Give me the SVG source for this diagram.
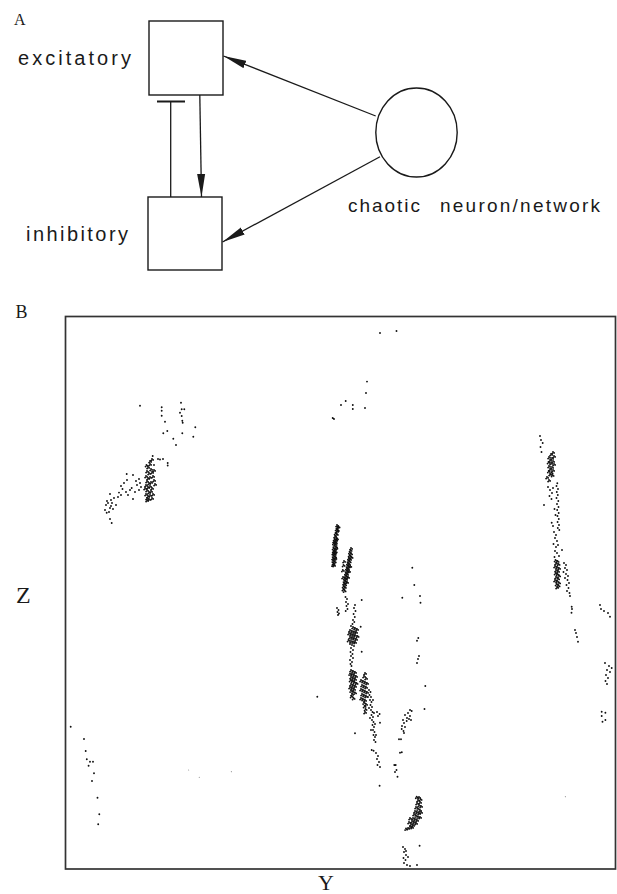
<svg xmlns="http://www.w3.org/2000/svg" width="617" height="894" viewBox="0 0 617 894">
<style>
.sans{font-family:"Liberation Sans",Arial,sans-serif;fill:#1a1a1a}
.serif{font-family:"Liberation Serif","Times New Roman",serif;fill:#1a1a1a}
.box{fill:none;stroke:#1a1a1a;stroke-width:1.4}
.ln{fill:none;stroke:#1a1a1a;stroke-width:1.3}
.dots{fill:none;stroke:#111;stroke-width:1.9;stroke-linecap:round}
</style>
<defs>
<marker id="arr" viewBox="0 0 24 9" refX="23" refY="4.5" markerWidth="24" markerHeight="9" markerUnits="userSpaceOnUse" orient="auto">
<path d="M0,0.5 L23,4.5 L0,8.5 Z" fill="#1a1a1a"/>
</marker>
</defs>
<rect width="617" height="894" fill="#fff"/>

<text class="serif" x="14" y="25" font-size="16">A</text>

<g id="excitatory">
<rect class="box" x="149" y="21" width="74" height="74"/>
<text class="sans" x="18" y="64.5" font-size="20" textLength="113" lengthAdjust="spacing">excitatory</text>
</g>
<g id="inhibitory">
<rect class="box" x="148" y="197" width="74" height="73"/>
<text class="sans" x="26" y="241" font-size="20" textLength="102" lengthAdjust="spacing">inhibitory</text>
</g>
<g id="chaotic">
<ellipse class="box" cx="416.5" cy="132.5" rx="40.7" ry="44.5"/>
<text class="sans" x="348" y="212" font-size="19"><tspan textLength="72" lengthAdjust="spacing">chaotic</tspan> <tspan x="440" textLength="160" lengthAdjust="spacing">neuron/network</tspan></text>
</g>

<g id="connectors">
<line class="ln" x1="375.7" y1="116" x2="223.5" y2="56" marker-end="url(#arr)"/>
<line class="ln" x1="380" y1="156.7" x2="222.5" y2="242" marker-end="url(#arr)"/>
<line class="ln" x1="199.8" y1="95" x2="201.5" y2="197" marker-end="url(#arr)"/>
<line class="ln" x1="170.7" y1="197" x2="170.7" y2="101.5"/>
<line x1="157" y1="101.5" x2="185" y2="101.5" stroke="#1a1a1a" stroke-width="2"/>
</g>

<text class="serif" x="15.5" y="318" font-size="18">B</text>
<g id="plot">
<rect x="65.5" y="316.5" width="550" height="552.5" fill="none" stroke="#333" stroke-width="1.7"/>
<path class="dots" d="M140 405.7h0M161.7 407.3h0M161.7 410.7h0M161.7 415.7h0M165 421.7h0M163.3 433.3h0M167.3 431h0M173.3 438.7h0M176 445h0M181 402.7h0M181.7 409.3h0M180 412.7h0M184.3 409.3h0M181.7 416h0M182.3 420.7h0M182.7 422.7h0M182.3 433.3h0M195.3 427.3h0M193.3 436.7h0
M152.7 456h0M158 459h0M160 459.5h0M163 459h0M167.7 463h0M167.7 465.5h0M154 465h0
M126.7 474h0M133 475h0M139 479h0M140 483h0M141 487h0M139 490h0M121 486h0M122.5 489h0M126 492h0M130 490h0M128 495h0M121 495h0M119 492.6h0M131.7 488h0M133 499h0M124 483h0M127 480h0M135 492h0M137 485h0M118 497h0M136 481h0
M110 494h0M111 500h0M108 503h0M111 506h0M106 505h0M110 508h0M112 503h0M114 498h0M105 510h0M106.7 512.7h0M109 512h0M110 519h0M111.7 523h0M107 501h0M113 509h0M116 505h0
M380 333h0M396.5 331h0M367 381.6h0M366 393h0M345.7 401h0M352.8 405h0M352.8 409h0M365 408h0M341 405h0M332.7 418h0M334 419h0
M345.5 597h0M347 599h0M346 602h0M348 604h0M346.5 606h0M347.5 609h0M345.7 611h0M337 608h0M338.5 610h0M337.5 612h0M339 613.5h0M338 615h0
M355 605h0M354 608h0M355.5 611h0M353.6 614h0M354.8 617h0M353 620h0M354.3 622h0M352.5 624h0M351 626h0
M350 644h0M352 645h0M354 646h0M351 648h0M353 650h0M350.5 652h0M352.5 654h0M351 656h0M353 658h0M350 660h0M352 662h0M350.5 664h0M351.5 666h0
M369 690h0M370.5 692h0M369.5 695h0M371 697h0M370 700h0M371.5 702h0M370.5 705h0M372 707h0M371 710h0M372.5 712h0M371.5 715h0M373 717h0M372 720h0M373.5 722h0M372.5 725h0M374 727h0M373 730h0M374.5 732h0M373.5 735h0M375 737h0M374 740h0M375.5 742h0M368 697h0M373 700h0M369 708h0M374 713h0M370 718h0M375 724h0M371 730h0M376 735h0
M377 712h0M378 716h0M380 722.7h0M379.6 714h0M361.7 600h0M360.7 626.7h0M361.7 651.7h0M355 733.3h0M317.3 696.7h0M371.7 750h0
M373.6 750.7h0M376 753h0M378 756h0M377 759h0M379 762h0M377.5 765h0M380 767h0M379.6 785.7h0
M412.3 567.7h0M414.3 585h0M402.3 597.7h0M420 596h0M420.5 602.7h0M417 640.7h0M418.3 638h0M419 656h0M418 659h0M417 663h0M425.3 686h0M424.5 709h0
M410 710h0M411.7 711h0M408 713h0M405 715h0M407 718h0M403 720h0M406.7 721h0M409 719h0M404 723h0M402 726h0M405 727h0M401.7 729h0M403.5 731h0M410 716h0M411 720h0M404 733h0M399 739.3h0M401 739.3h0M401.8 752.3h0M400 752.7h0
M395.7 765h0M396.5 770h0M397.5 776.7h0M394.3 765h0M395 772h0
M403 847h0M405 849h0M404 852h0M406 855h0M403.5 858h0M405.5 860h0M404 863h0M407 865h0M410 866h0M419.6 845.7h0M417 865h0M406 851h0M408 857h0
M70.7 726.7h0M84 739h0M85.7 751h0M86.8 759.3h0M90 761.7h0M93 761.7h0M88.6 765.7h0M94 773.3h0M92 781h0M97.5 797.7h0M99.3 814.3h0M98.2 824.3h0M605.4 712.7h0M605.4 720h0
M540 436h0M541 440h0M542.7 443h0M540.5 447h0M541.5 452h0
M557.3 483.3h0M556.5 486h0M558 489h0M556.8 492h0M557.8 495h0M556.5 498h0M558.3 501h0M557 504h0M558.5 507h0M557.2 510h0M558.7 513h0M557.5 516h0M558.8 519h0M557.6 522h0M559 525h0M557.8 528h0M559.3 530h0M548 487h0M550 490h0M552 493h0M549.5 496h0M551.5 499h0M553 488h0M544 505h0M551.7 522.7h0M553 526h0M555.5 515h0M554.5 509h0
M554 532h0M556 535h0M555 538h0M557 541h0M553.5 544h0M556 547h0M558 545h0M555 551h0M557 553h0M559 556h0M562 550h0M554.5 557h0
M564 563h0M566 565h0M565 568h0M567 570h0M563.5 572h0M566 574h0M568 576h0M565 578h0M567.5 580h0M569 583h0M566.5 585h0M568.5 588h0M567 591h0M569.5 593h0M570 596h0
M571.7 606.7h0M572 609h0M571.5 612.7h0M575 630h0M576 633h0M577 637h0M578 641.7h0
M600 605h0M601 609h0M604 611h0M608 613h0M610 616.7h0M605 663h0M609 666h0M607 670h0M610 672h0M606 675h0M608 678h0M605.5 681h0M607 684h0M611.7 668h0M601.7 711.7h0M601.7 716h0M602.5 721.7h0"/>
<path id="dense" class="dots" d="M146.5 465h0M148 467h0M150 464h0M151 469h0M147 471h0M149 473h0M152 472h0M146 476h0M148 478h0M150 477h0M153 476h0M147 481h0M149 483h0M151 482h0M146 485h0M148 487h0M150 486h0M152 488h0M147 490h0M149 492h0M151 491h0M146 494h0M148 496h0M150 495h0M153 494h0M147 498h0M149 499h0M152 498h0M154 480h0M155 484h0M145 488h0M154 470h0M150 461h0M152 459h0M147 500h0
M337 525h0M337.5 527h0M336.5 529h0M337 531h0M335.5 533h0M336.8 534h0M335 536h0M336.2 537.5h0M334.5 539h0M336 540h0M335 541.5h0M333.8 543h0M335.5 544h0M334.3 545.5h0M336 546.5h0M333.5 548h0M335 549h0M334 550.5h0M335.7 551.5h0M333.2 553h0M334.6 554h0M333.5 555.5h0M335 556.5h0M333 558h0M334.4 559h0M333.2 560.5h0M334.7 561.5h0M333.5 563h0M332.8 564.5h0M334 565h0M338.5 526.5h0M337.8 530h0M336.9 538.5h0M335.8 542.3h0M336.3 547.8h0M334.9 552.5h0M335.3 558h0M334 541h0M333.6 551h0
M351 548h0M350.5 550h0M349.8 552h0M351 553.5h0M349.5 555h0M350.3 556.5h0M348.8 558h0M350 559h0M348.4 560.5h0M349.6 561.5h0M347.8 563h0M349 564h0M347.5 565.5h0M348.6 566.5h0M346.8 568h0M348 569h0M346.5 570.5h0M347.6 571.5h0M345.8 573h0M347 574h0M345.4 575.5h0M346.6 576.5h0M344.8 578h0M346 579h0M344.4 580.5h0M345.5 581.5h0M344 583h0M345 584.5h0M343.5 586h0M344.8 587h0M343.3 589h0M344.5 590.5h0M343 577h0M342.8 570h0M343.5 565h0M344 561h0M351.5 557h0M350.2 566h0M349 571h0M348 577h0M347 582h0
M353 627h0M355 628h0M357 629h0M350 630h0M352 631h0M354 631.5h0M356 632h0M349 633h0M351 634h0M353 634.5h0M355 635h0M357.5 636h0M350 637h0M352 637.5h0M354 638h0M356 639h0M348.5 640h0M351 641h0M353 641.5h0M355 642h0
M351 670h0M353 671h0M355 672h0M350 673.5h0M352 674h0M354 675h0M356 676h0M351 677h0M353 678h0M355 679h0M350.5 680h0M352.5 681h0M354.5 682h0M356.5 683h0M351 684h0M353 685h0M355 686h0M350 687h0M352 688h0M354 689h0M351 690.5h0M353 691.5h0M355 692.5h0M352 694h0M351.5 696h0M353.5 698h0
M365 673h0M364 676h0M366 678h0M361 680h0M363 681h0M365 682h0M367 683h0M362 685h0M364 686h0M366 687h0M361 689h0M363 690h0M365 691h0M367 692h0M362 694h0M364 695h0M366 696h0M361 698h0M363 699h0M365 700h0M364 702.5h0M366 704h0M364.5 706h0M365.5 709h0M365 712h0
M419 797h0M420.5 799h0M418 800h0M420 802h0M417 803h0M419 805h0M421 806h0M416 807h0M418 808.5h0M420 810h0M415 811h0M417 812h0M419 813h0M414 814h0M416 815.5h0M418 816.5h0M413 818h0M415 819h0M417 820h0M412 821h0M414 822h0M416 823h0M411 824h0M413 825h0M410 826.5h0M412 827h0M408 828h0M406 828.5h0M421 812h0M420 817h0M409 822h0M410 818h0M416.7 796.7h0
M553 452h0M551 454h0M554 456h0M549 457h0M552 458h0M550 460h0M553 461h0M548.5 462h0M551 463h0M554 464h0M549 466h0M552 467h0M550 469h0M553 470h0M548.7 471h0M551.5 472.5h0M550 474h0M552.5 475h0M547 477h0M549 480h0
M555.5 560h0M557.5 561h0M556 563h0M558.5 564h0M555 566h0M557 567h0M559 568h0M556 570h0M558 571h0M555.5 573h0M557.5 574h0M559 575.5h0M556 577h0M558 578.5h0M555 580h0M557 581h0M559 582.5h0M556.5 584h0M558.5 585.5h0M557 587h0"/>
<use href="#dense" transform="translate(1.1,0.9)"/>
<use href="#dense" transform="translate(-0.9,1.6)"/>
<path d="M188.6 770h0M199.3 777.3h0M231.4 771.7h0M565.4 796.7h0" fill="none" stroke="#999" stroke-width="1.2" stroke-linecap="round"/>
</g>
<text class="serif" x="16" y="602.7" font-size="24">Z</text>
<text class="serif" x="318" y="890" font-size="22">Y</text>
</svg>
